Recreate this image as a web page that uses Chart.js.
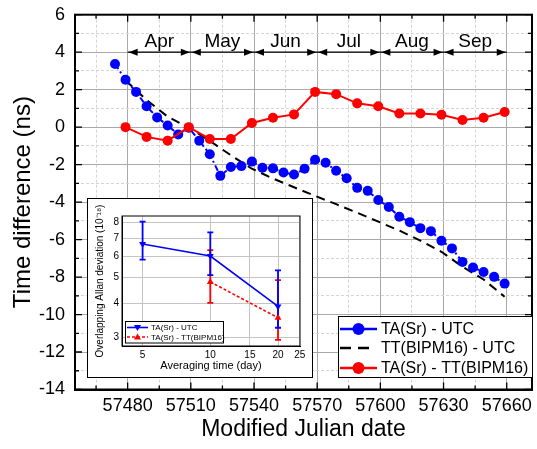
<!DOCTYPE html>
<html>
<head>
<meta charset="utf-8">
<script src="https://cdn.jsdelivr.net/npm/chart.js@4.4.1/dist/chart.umd.min.js"></script>
<style>
  body { margin: 0; background: #fff; }
  #wrap { position: relative; width: 537px; height: 449px; }
  #insetBox { position: absolute; left: 87px; top: 198px; width: 224px; height: 178px; border: 1px solid #000; background: #fff; }
</style>
</head>
<body>
<div id="wrap">
  <canvas id="main" width="537" height="449"></canvas>
  <div id="insetBox"><canvas id="inset" width="224" height="178"></canvas></div>
</div>
<script>
// main plot data (MJD, ns)
var mjd5 = [57474, 57479, 57484, 57489, 57494, 57499, 57504, 57509, 57514, 57519,
            57524, 57529, 57534, 57539, 57544, 57549, 57554, 57559, 57564, 57569,
            57574, 57579, 57584, 57589, 57594, 57599, 57604, 57609, 57614, 57619,
            57624, 57629, 57634, 57639, 57644, 57649, 57654, 57659];
var srUtc = [3.37, 2.53, 1.88, 1.11, 0.52, 0.09, -0.39, -0.03, -0.72, -1.45,
             -2.60, -2.13, -2.08, -1.84, -2.17, -2.20, -2.42, -2.53, -2.22, -1.74,
             -1.90, -2.33, -2.73, -3.24, -3.40, -3.89, -4.26, -4.78, -5.07, -5.39,
             -5.55, -6.06, -6.47, -7.19, -7.49, -7.73, -7.99, -8.35];
var mjd10 = [57479, 57489, 57499, 57509, 57519, 57529, 57539, 57549, 57559, 57569,
             57579, 57589, 57599, 57609, 57619, 57629, 57639, 57649, 57659];
var ttUtc = [2.50, 1.45, 0.56, -0.03, -0.73, -1.50, -2.22, -2.74, -3.21, -3.67,
             -4.11, -4.57, -5.04, -5.52, -6.06, -6.65, -7.45, -8.13, -9.05];
var srTt = [0.00, -0.52, -0.72, 0.00, -0.63, -0.63, 0.22, 0.50, 0.68, 1.88,
            1.76, 1.27, 1.11, 0.73, 0.73, 0.66, 0.38, 0.50, 0.81];

var xMajorTicks = [57480, 57510, 57540, 57570, 57600, 57630, 57660];
var xMinorTicks = [57465, 57495, 57525, 57555, 57585, 57615, 57645];
var yMajorTicks = [-14, -12, -10, -8, -6, -4, -2, 0, 2, 4, 6];
var yMinorTicks = [-13, -11, -9, -7, -5, -3, -1, 1, 3, 5];

var monthNames = ["Apr", "May", "Jun", "Jul", "Aug", "Sep"];
var monthEdges = [57480, 57510, 57540, 57570, 57600, 57630, 57660];
var monthArrowY = 4;

var legendNames = ["TA(Sr) - UTC", "TT(BIPM16) - UTC", "TA(Sr) - TT(BIPM16)"];

// inset data (averaging time in days, Allan deviation x1e-18)
var tauBlue = [5, 10, 20];
var adevBlue = [6.65, 6.0, 3.90];
var adevBlueHi = [8.05, 7.35, 5.31];
var adevBlueLo = [5.82, 5.10, 3.25];
var tauRed = [10, 20];
var adevRed = [4.81, 3.54];
var adevRedHi = [6.31, 4.88];
var adevRedLo = [4.02, 2.93];
var insetXTicks = [5, 10, 15, 20, 25];
var insetYTicks = [3, 4, 5, 6, 7, 8];
var insetNames = ["TA(Sr) - UTC", "TA(Sr) - TT(BIPM16)"];

var FONT = "'Liberation Sans', Arial, sans-serif";
Chart.defaults.font.family = FONT;
Chart.defaults.color = "#000";

function pts(xs, ys) { return xs.map(function (x, i) { return {x: x, y: ys[i]}; }); }

var monthArrows = {
  id: "monthArrows",
  afterDatasetsDraw: function (chart) {
    var ctx = chart.ctx, x = chart.scales.x, y = chart.scales.y;
    var py = y.getPixelForValue(monthArrowY);
    ctx.save();
    ctx.strokeStyle = "#000"; ctx.fillStyle = "#000"; ctx.lineWidth = 1.2;
    ctx.beginPath();
    ctx.moveTo(x.getPixelForValue(monthEdges[0]), py);
    ctx.lineTo(x.getPixelForValue(monthEdges[monthEdges.length - 1]), py);
    ctx.stroke();
    ctx.font = "19px " + FONT; ctx.textAlign = "center"; ctx.textBaseline = "middle";
    for (var i = 0; i < monthNames.length; i++) {
      var a = x.getPixelForValue(monthEdges[i]) + 1, b = x.getPixelForValue(monthEdges[i + 1]) - 1;
      ctx.beginPath(); ctx.moveTo(a, py); ctx.lineTo(a + 9, py - 3.5); ctx.lineTo(a + 9, py + 3.5); ctx.fill();
      ctx.beginPath(); ctx.moveTo(b, py); ctx.lineTo(b - 9, py - 3.5); ctx.lineTo(b - 9, py + 3.5); ctx.fill();
      ctx.fillText(monthNames[i], (a + b) / 2, py - 10);
    }
    ctx.restore();
  }
};

var frame = {
  id: "frame",
  afterDraw: function (chart) {
    var ctx = chart.ctx, a = chart.chartArea, x = chart.scales.x, y = chart.scales.y;
    ctx.save();
    ctx.strokeStyle = "#000"; ctx.lineWidth = 2;
    ctx.strokeRect(a.left, a.top, a.right - a.left, a.bottom - a.top);
    ctx.lineWidth = 1.3;
    ctx.beginPath();
    x.ticks.forEach(function (t) {
      var p = x.getPixelForValue(t.value), len = xMajorTicks.indexOf(t.value) >= 0 ? 7 : 4;
      ctx.moveTo(p, a.bottom); ctx.lineTo(p, a.bottom - len);
      ctx.moveTo(p, a.top); ctx.lineTo(p, a.top + len);
    });
    y.ticks.forEach(function (t) {
      var p = y.getPixelForValue(t.value), len = yMajorTicks.indexOf(t.value) >= 0 ? 7 : 4;
      ctx.moveTo(a.left, p); ctx.lineTo(a.left + len, p);
      ctx.moveTo(a.right, p); ctx.lineTo(a.right - len, p);
    });
    ctx.stroke();
    ctx.restore();
  }
};

var mainLegend = {
  id: "mainLegend",
  afterDraw: function (chart) {
    var ctx = chart.ctx;
    var bx = 338.5, by = 316.5, bw = 194, bh = 61;
    var rows = [329, 348, 368];
    ctx.save();
    ctx.fillStyle = "#fff"; ctx.fillRect(bx, by, bw, bh);
    ctx.strokeStyle = "#000"; ctx.lineWidth = 1; ctx.strokeRect(bx, by, bw, bh);
    [[0, "#0000ff"], [2, "#ff0000"]].forEach(function (r) {
      var yy = rows[r[0]];
      ctx.strokeStyle = r[1]; ctx.fillStyle = r[1]; ctx.lineWidth = 2.5;
      ctx.beginPath(); ctx.moveTo(340, yy); ctx.lineTo(377, yy); ctx.stroke();
      ctx.beginPath(); ctx.arc(358.5, yy, 6, 0, Math.PI * 2); ctx.fill();
    });
    ctx.strokeStyle = "#000"; ctx.lineWidth = 2.5;
    ctx.setLineDash([11, 7]);
    ctx.beginPath(); ctx.moveTo(340, rows[1]); ctx.lineTo(369, rows[1]); ctx.stroke();
    ctx.setLineDash([]);
    ctx.fillStyle = "#000"; ctx.font = "16px " + FONT; ctx.textAlign = "left"; ctx.textBaseline = "middle";
    legendNames.forEach(function (n, i) { ctx.fillText(n, 381, rows[i] + 1); });
    ctx.restore();
  }
};

new Chart(document.getElementById("main"), {
  type: "line",
  data: {
    datasets: [{
      label: legendNames[0],
      data: pts(mjd5, srUtc),
      borderColor: "#0000ff", backgroundColor: "#0000ff",
      borderWidth: 2, borderDash: [6, 3, 2, 3],
      pointRadius: 5, pointHoverRadius: 5, pointBorderWidth: 0,
      order: 1
    }, {
      label: legendNames[1],
      data: pts(mjd10, ttUtc),
      borderColor: "#000", borderWidth: 2, borderDash: [9, 6],
      pointRadius: 0,
      order: 2
    }, {
      label: legendNames[2],
      data: pts(mjd10, srTt),
      borderColor: "#ff0000", backgroundColor: "#ff0000",
      borderWidth: 2,
      pointRadius: 5, pointHoverRadius: 5, pointBorderWidth: 0,
      order: 0
    }]
  },
  options: {
    responsive: false,
    animation: false,
    layout: { padding: { left: 0, top: 14.7, right: 4, bottom: 0 } },
    plugins: { legend: { display: false }, tooltip: { enabled: false } },
    scales: {
      x: {
        type: "linear", min: 57455, max: 57672,
        afterBuildTicks: function (s) {
          s.ticks = xMinorTicks.concat(xMajorTicks).sort().map(function (v) { return {value: v}; });
        },
        afterFit: function (s) { s.height = 59.5; s.paddingLeft = 0; s.paddingRight = 0; },
        ticks: {
          autoSkip: false, maxRotation: 0, padding: 6,
          font: { size: 18 },
          callback: function (v) { return xMajorTicks.indexOf(v) >= 0 ? String(v) : ""; }
        },
        grid: {
          drawTicks: false,
          color: function (c) { return c.tick && xMajorTicks.indexOf(c.tick.value) >= 0 ? "#aaaaaa" : "#d4d4d4"; },
          lineWidth: 1
        },
        border: {
          color: "#000", width: 2,
          dash: function (c) { return c.tick && xMinorTicks.indexOf(c.tick.value) >= 0 ? [3, 2] : []; }
        },
        title: { display: true, text: "Modified Julian date", font: { size: 23 }, padding: { top: 0, bottom: 6 } }
      },
      y: {
        type: "linear", min: -14, max: 6,
        afterBuildTicks: function (s) {
          s.ticks = yMinorTicks.concat(yMajorTicks).sort(function (a, b) { return a - b; }).map(function (v) { return {value: v}; });
        },
        afterFit: function (s) { s.width = 75; s.paddingTop = 0; s.paddingBottom = 0; },
        ticks: {
          autoSkip: false, padding: 10,
          font: { size: 18 },
          callback: function (v) { return yMajorTicks.indexOf(v) >= 0 ? String(v) : ""; }
        },
        grid: {
          drawTicks: false,
          color: function (c) { return c.tick && yMajorTicks.indexOf(c.tick.value) >= 0 ? "#aaaaaa" : "#d4d4d4"; },
          lineWidth: 1
        },
        border: {
          color: "#000", width: 2,
          dash: function (c) { return c.tick && yMinorTicks.indexOf(c.tick.value) >= 0 ? [3, 2] : []; }
        },
        title: { display: true, text: "Time difference (ns)", font: { size: 24 }, padding: { top: 9, bottom: 0 } }
      }
    }
  },
  plugins: [monthArrows, frame, mainLegend]
});

// ---- inset ----
var errorBars = {
  id: "errorBars",
  beforeDatasetsDraw: function (chart) {
    var ctx = chart.ctx, x = chart.scales.x, y = chart.scales.y;
    var sets = [[tauRed, adevRedLo, adevRedHi, "#ff0000"], [tauBlue, adevBlueLo, adevBlueHi, "#0000ff"]];
    ctx.save();
    ctx.lineWidth = 1.8;
    sets.forEach(function (s) {
      ctx.strokeStyle = s[3];
      s[0].forEach(function (t, i) {
        var px = x.getPixelForValue(t), lo = y.getPixelForValue(s[1][i]), hi = y.getPixelForValue(s[2][i]);
        ctx.beginPath();
        ctx.moveTo(px, lo); ctx.lineTo(px, hi);
        ctx.moveTo(px - 3, lo); ctx.lineTo(px + 3, lo);
        ctx.moveTo(px - 3, hi); ctx.lineTo(px + 3, hi);
        ctx.stroke();
      });
    });
    ctx.restore();
  }
};

var insetFrame = {
  id: "insetFrame",
  afterDraw: function (chart) {
    var ctx = chart.ctx, a = chart.chartArea;
    ctx.save();
    ctx.strokeStyle = "#000"; ctx.lineWidth = 1;
    ctx.strokeRect(a.left, a.top, a.right - a.left, a.bottom - a.top);
    var bx = 37.5, by = 122.5, bw = 98, bh = 21.5;
    ctx.fillStyle = "#fff"; ctx.fillRect(bx, by, bw, bh); ctx.strokeRect(bx, by, bw, bh);
    var rows = [128.5, 138];
    [["#0000ff", [], Math.PI], ["#ff0000", [3, 2], 0]].forEach(function (r, i) {
      var yy = rows[i];
      ctx.strokeStyle = r[0]; ctx.fillStyle = r[0]; ctx.lineWidth = 1.6;
      ctx.setLineDash(r[1]);
      ctx.beginPath(); ctx.moveTo(39, yy); ctx.lineTo(60, yy); ctx.stroke();
      ctx.setLineDash([]);
      var s = r[2] ? -1 : 1;
      ctx.beginPath(); ctx.moveTo(49.5, yy - 3.5 * s); ctx.lineTo(53, yy + 2.5 * s); ctx.lineTo(46, yy + 2.5 * s); ctx.fill();
    });
    ctx.fillStyle = "#000"; ctx.font = "8px " + FONT; ctx.textAlign = "left"; ctx.textBaseline = "middle";
    insetNames.forEach(function (n, i) { ctx.fillText(n, 63, rows[i] + 0.5); });
    ctx.restore();
  }
};

new Chart(document.getElementById("inset"), {
  type: "line",
  data: {
    datasets: [{
      data: pts(tauBlue, adevBlue),
      borderColor: "#0000ff", backgroundColor: "#0000ff",
      borderWidth: 1.6, pointStyle: "triangle", rotation: 180,
      pointRadius: 4, pointBorderWidth: 0
    }, {
      data: pts(tauRed, adevRed),
      borderColor: "#ff0000", backgroundColor: "#ff0000",
      borderWidth: 1.6, borderDash: [3, 2], pointStyle: "triangle",
      pointRadius: 4, pointBorderWidth: 0
    }]
  },
  options: {
    responsive: false,
    animation: false,
    layout: { padding: { left: 0, top: 17, right: 12, bottom: 0 } },
    plugins: { legend: { display: false }, tooltip: { enabled: false } },
    scales: {
      x: {
        type: "logarithmic", min: 4.05, max: 25.05,
        afterBuildTicks: function (s) { s.ticks = insetXTicks.map(function (v) { return {value: v}; }); },
        afterFit: function (s) { s.height = 31; },
        ticks: { autoSkip: false, maxRotation: 0, padding: 3, font: { size: 10 }, callback: function (v) { return String(v); } },
        grid: { drawTicks: false, color: "#c4c4c4" },
        border: { color: "#000" },
        title: { display: true, text: "Averaging time (day)", font: { size: 11 }, padding: { top: 0, bottom: 4 } }
      },
      y: {
        type: "logarithmic", min: 2.78, max: 8.45,
        afterBuildTicks: function (s) { s.ticks = insetYTicks.map(function (v) { return {value: v}; }); },
        afterFit: function (s) { s.width = 34; },
        ticks: { autoSkip: false, padding: 3, font: { size: 10 }, callback: function (v) { return String(v); } },
        grid: { drawTicks: false, color: "#c4c4c4" },
        border: { color: "#000" },
        title: { display: true, text: "Overlapping Allan deviation (10\u207B\u00B9\u2078)", font: { size: 10 }, padding: { top: 6, bottom: 0 } }
      }
    }
  },
  plugins: [errorBars, insetFrame]
});
</script>
</body>
</html>
